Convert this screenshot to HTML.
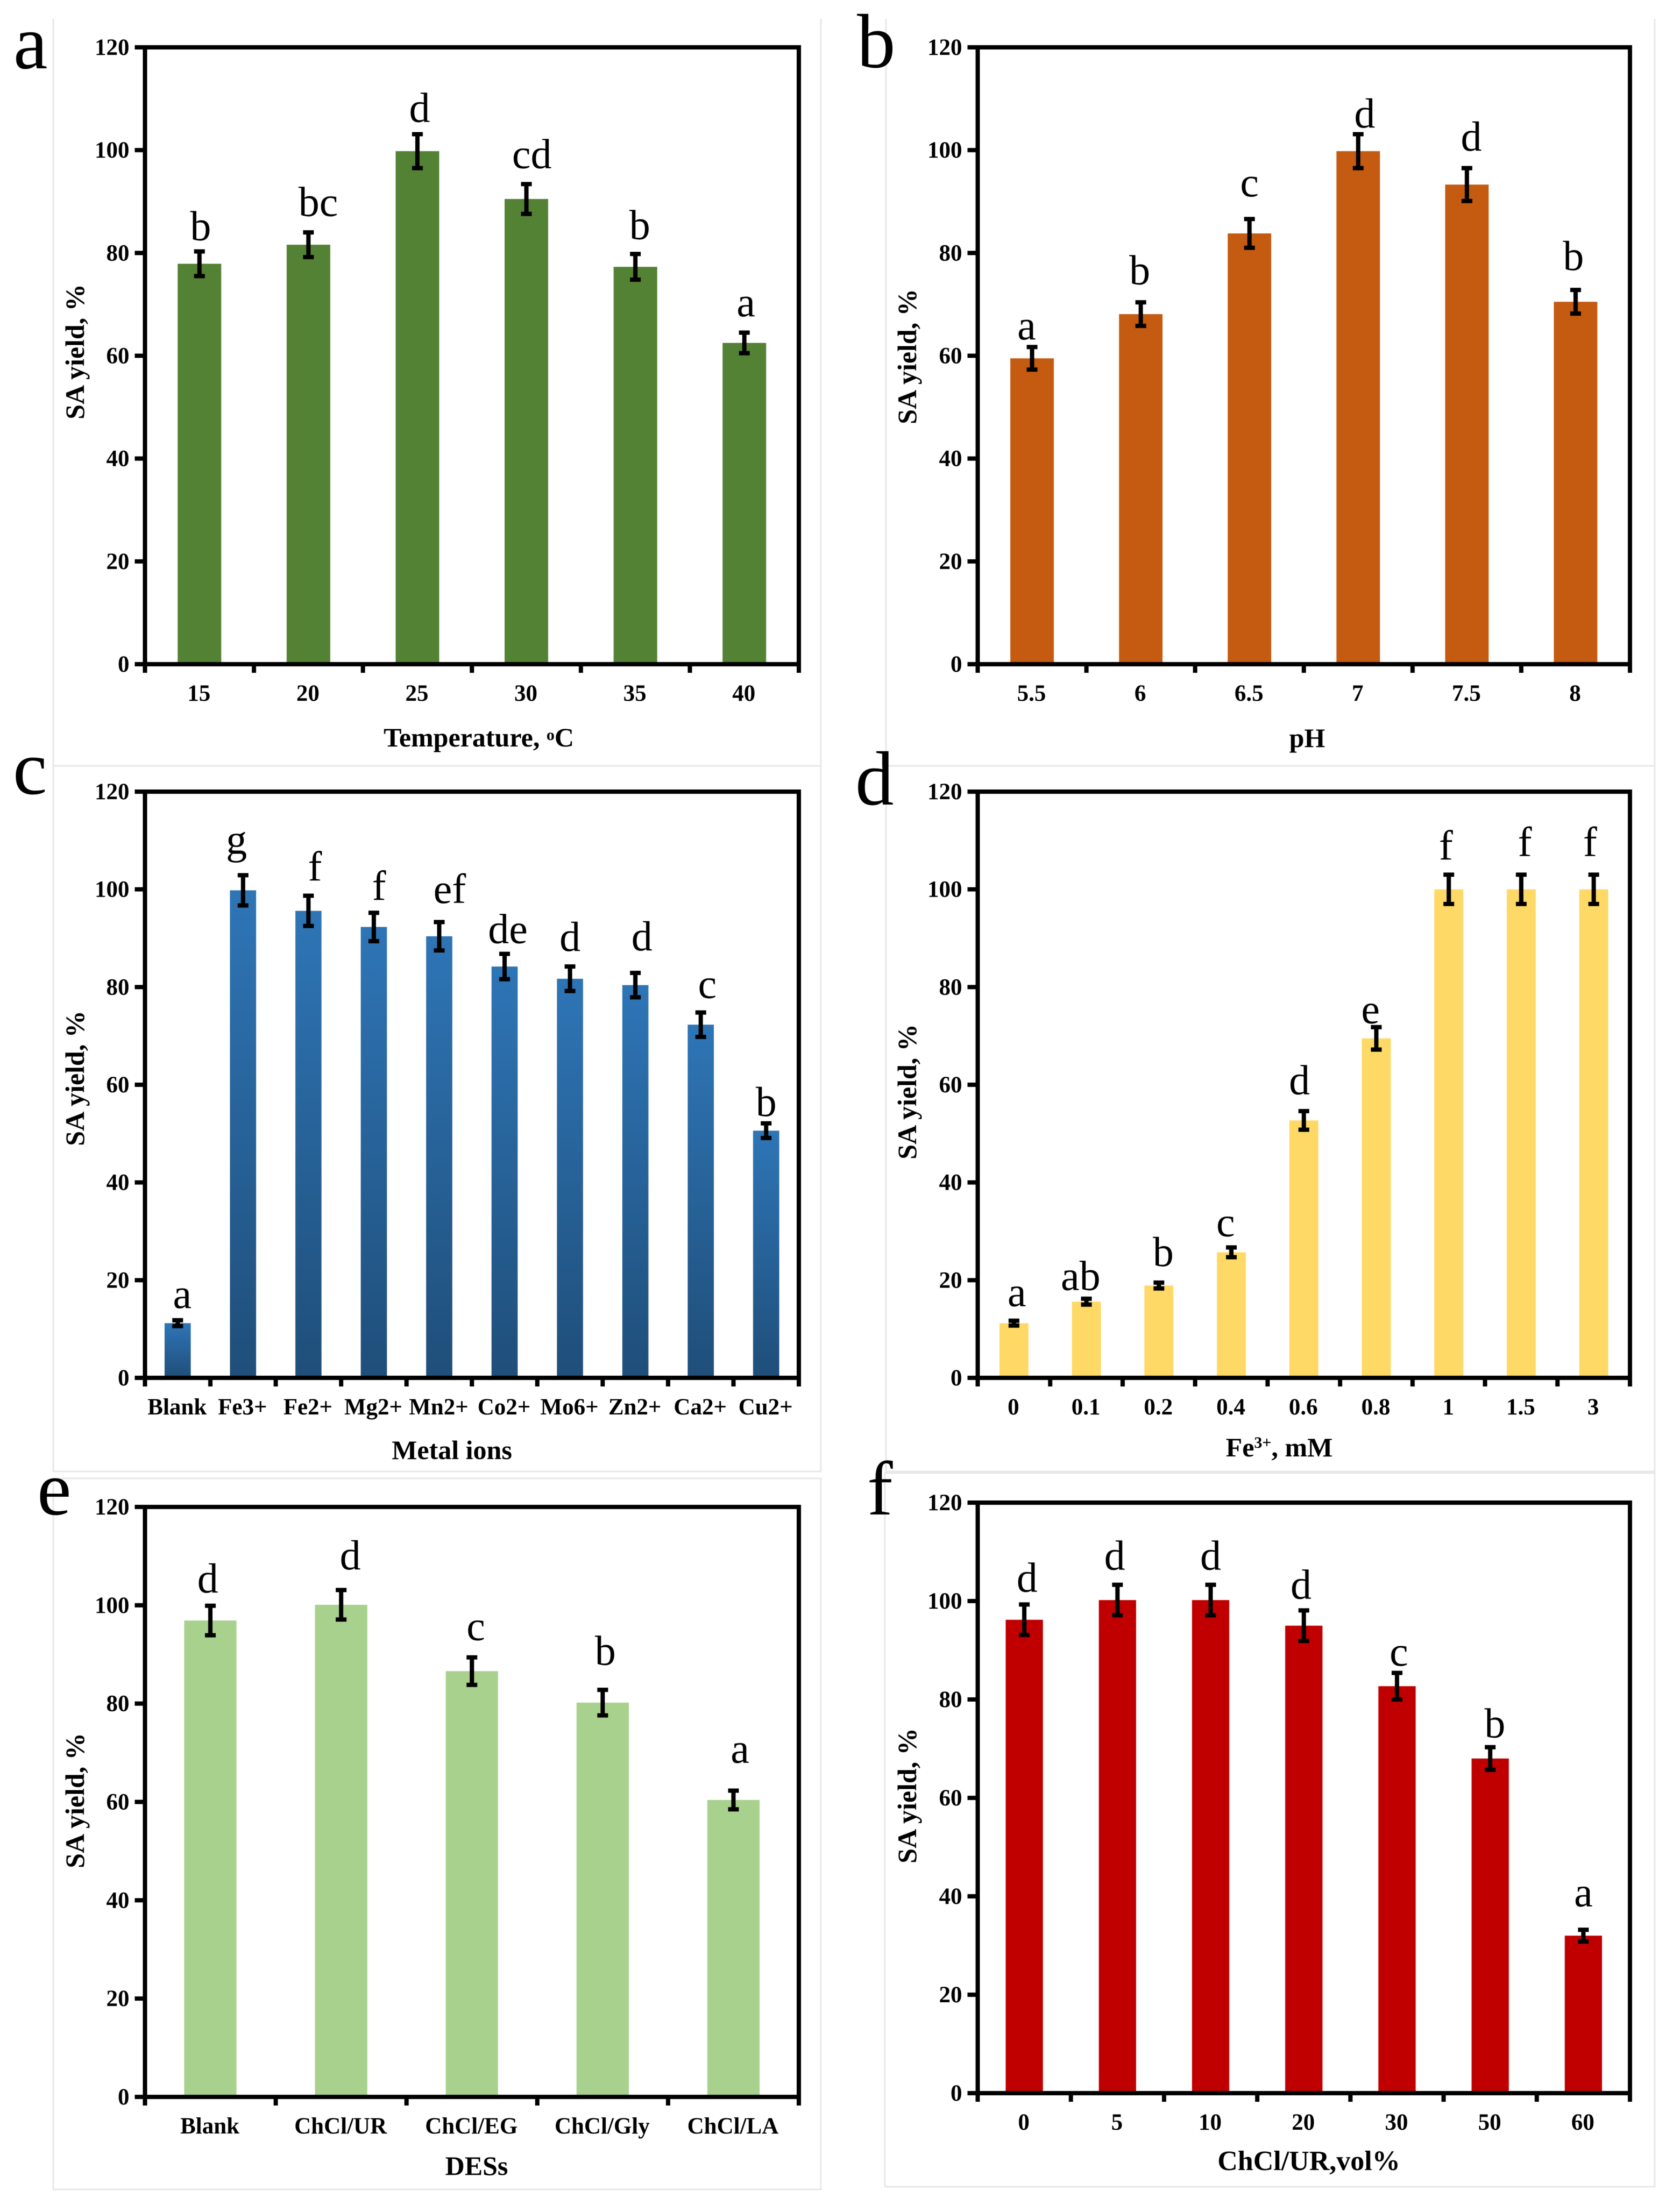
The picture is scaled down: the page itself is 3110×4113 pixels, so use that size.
<!DOCTYPE html>
<html lang="en">
<head>
<meta charset="utf-8">
<title>SA yield bar charts</title>
<style>
html,body{margin:0;padding:0;background:#fff;width:3110px;height:4113px;overflow:hidden}
svg{display:block;font-family:"Liberation Serif",serif;filter:blur(0.7px)}
.tick{font-size:43px;font-weight:700;fill:#000}
.axis-title{font-size:50px;font-weight:700;fill:#000}
.panel-letter{font-size:143px;fill:#000}
.sig{font-size:78px;fill:#000}
.border{stroke:#e8e8e8;stroke-width:3;fill:none}
</style>
</head>
<body>
<svg id="figure" width="3110" height="4113" viewBox="0 0 3110 4113" xmlns="http://www.w3.org/2000/svg">
  <defs>
    <linearGradient id="blueGrad" x1="0" y1="0" x2="0" y2="1">
      <stop offset="0" stop-color="#2E75B6"/>
      <stop offset="1" stop-color="#1F4E79"/>
    </linearGradient>
  </defs>
  <rect width="3110" height="4113" fill="#fff"/>

  <g>
    <path class="border" d="M99 35V1424M1526 35V1424"/>
    <path class="border" d="M1647 35V1424M3076 35V1424"/>
    <path class="border" d="M99 1424H1526V2736H99Z"/>
    <path class="border" d="M1647 1424H3076V2736H1647Z"/>
    <path class="border" d="M99 2749H1526V4071H99Z"/>
    <path class="border" d="M1645 2739H3076V4066H1645Z"/>
  </g>

  <g id="panel-a"></g>
  <g id="panel-b"></g>
  <g id="panel-c"></g>
  <g id="panel-d"></g>
  <g id="panel-e"></g>
  <g id="panel-f"></g>

  <text class="panel-letter" x="25" y="127">a</text>
  <text class="panel-letter" x="1593" y="125">b</text>
  <text class="panel-letter" x="24" y="1476">c</text>
  <text class="panel-letter" x="1590" y="1496">d</text>
  <text class="panel-letter" x="69" y="2816">e</text>
  <text class="panel-letter" x="1612" y="2816">f</text>

  <text class="axis-title" x="890" y="1388" text-anchor="middle">Temperature, <tspan font-size="30" dy="-12">o</tspan><tspan dy="12">C</tspan></text>
  <text class="axis-title" x="2430" y="1389" text-anchor="middle">pH</text>
  <text class="axis-title" x="840" y="2713" text-anchor="middle">Metal ions</text>
  <text class="axis-title" x="2378" y="2708" text-anchor="middle">Fe<tspan font-size="30" dy="-16">3+</tspan><tspan dy="16">, mM</tspan></text>
  <text class="axis-title" x="886" y="4044" text-anchor="middle">DESs</text>
  <text class="axis-title" x="2433" y="4035" text-anchor="middle" style="font-size:52px">ChCl/UR,vol%</text>

  <text class="axis-title" transform="translate(156 654) rotate(-90)" text-anchor="middle">SA yield, %</text>
  <text class="axis-title" transform="translate(1703 663) rotate(-90)" text-anchor="middle">SA yield, %</text>
  <text class="axis-title" transform="translate(156 2005) rotate(-90)" text-anchor="middle">SA yield, %</text>
  <text class="axis-title" transform="translate(1703 2030) rotate(-90)" text-anchor="middle">SA yield, %</text>
  <text class="axis-title" transform="translate(156 3348) rotate(-90)" text-anchor="middle">SA yield, %</text>
  <text class="axis-title" transform="translate(1703 3339) rotate(-90)" text-anchor="middle">SA yield, %</text>
</svg>

<script>
// Shared axis
var yTickValues = [0, 20, 40, 60, 80, 100, 120];
var yMax = 120;

// Panel a
var tempCategories = ["15", "20", "25", "30", "35", "40"];
var tempValues = [77.9, 81.6, 99.8, 90.5, 77.3, 62.5];
var tempErrors = [2.4, 2.4, 3.3, 2.9, 2.5, 2.0];
var tempLetters = ["b", "bc", "d", "cd", "b", "a"];
var tempLetterLift = [2.2, 3.2, 2.4, 3.1, 2.9, 3.2];
var tempLetterShift = [0.01, 0.09, 0.02, 0.05, 0.04, 0.015];

// Panel b
var phCategories = ["5.5", "6", "6.5", "7", "7.5", "8"];
var phValues = [59.5, 68.1, 83.8, 99.8, 93.3, 70.5];
var phErrors = [2.2, 2.3, 2.8, 3.3, 3.2, 2.3];
var phLetters = ["a", "b", "c", "d", "d", "b"];
var phLetterLift = [1.5, 3.5, 4.4, 1.3, 3.4, 3.9];
var phLetterShift = [-0.05, -0.01, 0, 0.06, 0.04, -0.02];

// Panel c
var metalCategories = ["Blank", "Fe3+", "Fe2+", "Mg2+", "Mn2+", "Co2+", "Mo6+", "Zn2+", "Ca2+", "Cu2+"];
var metalValues = [11.2, 99.8, 95.6, 92.3, 90.4, 84.2, 81.7, 80.4, 72.3, 50.6];
var metalErrors = [0.6, 3.1, 3.1, 2.9, 2.9, 2.6, 2.5, 2.5, 2.5, 1.5];
var metalLetters = ["a", "g", "f", "f", "ef", "de", "d", "d", "c", "b"];
var metalLetterLift = [2.5, 4.4, 3.1, 2.6, 3.9, 2.2, 3.2, 4.6, 3.0, 1.5];
var metalLetterShift = [0.07, -0.1, 0.1, 0.08, 0.16, 0.05, 0, 0.1, 0.1, 0];

// Panel d
var ironCategories = ["0", "0.1", "0.2", "0.4", "0.6", "0.8", "1", "1.5", "3"];
var ironValues = [11.2, 15.6, 18.9, 25.7, 52.7, 69.5, 100, 100, 100];
var ironErrors = [0.5, 0.6, 0.6, 1.0, 1.9, 2.3, 3.0, 3.0, 3.0];
var ironLetters = ["a", "ab", "b", "c", "d", "e", "f", "f", "f"];
var ironLetterLift = [3, 1.8, 3.4, 2.3, 3.5, 0.8, 3.1, 3.8, 3.8];
var ironLetterShift = [0.04, -0.08, 0.06, -0.08, -0.06, -0.08, -0.04, 0.05, -0.05];

// Panel e
var desCategories = ["Blank", "ChCl/UR", "ChCl/EG", "ChCl/Gly", "ChCl/LA"];
var desValues = [96.9, 100.1, 86.6, 80.2, 60.4];
var desErrors = [3.0, 3.0, 2.8, 2.6, 1.9];
var desLetters = ["d", "d", "c", "b", "a"];
var desLetterLift = [2.7, 4.2, 3.5, 5.1, 5.7];
var desLetterShift = [-0.02, 0.07, 0.03, 0.02, 0.05];

// Panel f
var volCategories = ["0", "5", "10", "20", "30", "50", "60"];
var volValues = [96.2, 100.2, 100.2, 95, 82.7, 68, 32];
var volErrors = [3.1, 3.1, 3.1, 3.1, 2.7, 2.3, 1.2];
var volLetters = ["d", "d", "d", "d", "c", "b", "a"];
var volLetterLift = [2.6, 3.1, 3.1, 2.4, 1.5, 2.0, 4.8];
var volLetterShift = [0.03, -0.03, 0, -0.03, 0.02, 0.05, 0];

var SVG_NS = "http://www.w3.org/2000/svg";

function make(parent, tag, attrs, content) {
  var node = document.createElementNS(SVG_NS, tag);
  for (var k in attrs) { node.setAttribute(k, attrs[k]); }
  if (content !== undefined) { node.textContent = content; }
  parent.appendChild(node);
  return node;
}

function drawPanel(id, frame, fill, categories, values, errors, letters, lift, shift) {
  var group = document.getElementById(id);
  var n = categories.length;
  var step = (frame.right - frame.left) / n;
  var barWidth = step * 0.40;

  function xScale(i) { return frame.left + (i + 0.5) * step; }
  function yScale(v) { return frame.bottom - (v / yMax) * (frame.bottom - frame.top); }

  // bars
  for (var i = 0; i < n; i++) {
    var bar = make(group, "rect", {
      x: xScale(i) - barWidth / 2,
      y: yScale(values[i]),
      width: barWidth,
      height: frame.bottom - yScale(values[i]),
      fill: fill
    });
    
    
  }

  // plot frame
  var box = make(group, "rect", {
    x: frame.left, y: frame.top,
    width: frame.right - frame.left, height: frame.bottom - frame.top,
    fill: "none", stroke: "#000", "stroke-width": 8
  });
  
  

  // y ticks
  yTickValues.forEach(function (t) {
    var y = yScale(t);
    var tick = make(group, "line", {
      x1: frame.left - 19, x2: frame.left, y1: y, y2: y,
      stroke: "#000", "stroke-width": 8
    });
    
    
    var label = make(group, "text", {
      "class": "tick", x: frame.left - 29, y: y + 14, "text-anchor": "end"
    }, String(t));
    
    
  });

  // x ticks
  for (var b = 0; b <= n; b++) {
    var xb = frame.left + b * step;
    var xt = make(group, "line", {
      x1: xb, x2: xb, y1: frame.bottom, y2: frame.bottom + 16,
      stroke: "#000", "stroke-width": 8
    });
    
    
  }

  // category labels
  categories.forEach(function (c, i) {
    var label = make(group, "text", {
      "class": "tick", x: xScale(i) - 1, y: frame.bottom + 68, "text-anchor": "middle"
    }, c);
    
    
  });

  // error bars
  values.forEach(function (v, i) {
    var x = xScale(i);
    var hi = yScale(v + errors[i]);
    var lo = yScale(v - errors[i]);
    var err = make(group, "path", {
      d: "M" + x + " " + hi + "V" + lo +
         "M" + (x - 10) + " " + hi + "H" + (x + 10) +
         "M" + (x - 10) + " " + lo + "H" + (x + 10),
      stroke: "#000", "stroke-width": 8, fill: "none"
    });
    
    
  });

  // significance letters
  letters.forEach(function (s, i) {
    var sig = make(group, "text", {
      "class": "sig",
      x: xScale(i) + shift[i] * step,
      y: yScale(values[i] + errors[i] + lift[i]),
      "text-anchor": "middle"
    }, s);
    
    
  });
}

drawPanel("panel-a", {left: 269.5, right: 1485, top: 88, bottom: 1235}, "#548235",
  tempCategories, tempValues, tempErrors, tempLetters, tempLetterLift, tempLetterShift);
drawPanel("panel-b", {left: 1817.5, right: 3030, top: 88, bottom: 1235}, "#C55A11",
  phCategories, phValues, phErrors, phLetters, phLetterLift, phLetterShift);
drawPanel("panel-c", {left: 269.5, right: 1485, top: 1472, bottom: 2562}, "url(#blueGrad)",
  metalCategories, metalValues, metalErrors, metalLetters, metalLetterLift, metalLetterShift);
drawPanel("panel-d", {left: 1817.5, right: 3030, top: 1472, bottom: 2562}, "#FFD966",
  ironCategories, ironValues, ironErrors, ironLetters, ironLetterLift, ironLetterShift);
drawPanel("panel-e", {left: 269.5, right: 1485, top: 2802, bottom: 3899}, "#A9D18E",
  desCategories, desValues, desErrors, desLetters, desLetterLift, desLetterShift);
drawPanel("panel-f", {left: 1817.5, right: 3030, top: 2794, bottom: 3892}, "#C00000",
  volCategories, volValues, volErrors, volLetters, volLetterLift, volLetterShift);
</script>
</body>
</html>
